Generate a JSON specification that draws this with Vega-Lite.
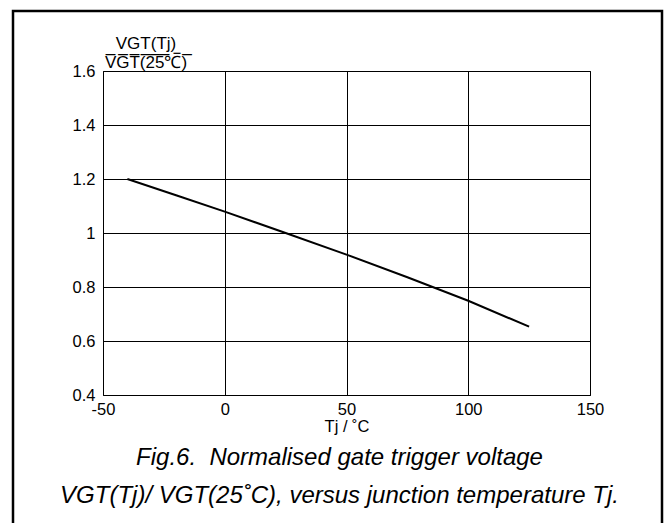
{
  "$schema": "https://vega.github.io/schema/vega-lite/v6.json",
  "width": 649,
  "height": 520,
  "autosize": {"type": "none"},
  "padding": {"left": 13, "top": 11, "right": 3, "bottom": -8},
  "background": "white",
  "config": {
    "font": "Liberation Sans",
    "view": {"stroke": "#000", "strokeWidth": 2.5, "fill": "white"},
    "axis": {
      "domainColor": "#000", "domainWidth": 1,
      "gridColor": "#000", "gridWidth": 1, "gridOpacity": 1,
      "ticks": false, "tickSize": 0,
      "labelColor": "#000", "labelFont": "Liberation Sans", "labelFontSize": 16.5,
      "titleColor": "#000", "titleFont": "Liberation Sans", "titleFontSize": 16.5, "titleFontWeight": "normal"
    }
  },
  "title": {
    "text": ["Fig.6.\u00a0 Normalised gate trigger voltage", "VGT(Tj)/ VGT(25˚C), versus junction temperature Tj."],
    "orient": "bottom", "anchor": "middle", "frame": "group", "offset": -66,
    "baseline": "alphabetic", "fontSize": 24, "fontStyle": "italic", "fontWeight": "normal",
    "font": "Liberation Sans", "color": "#000", "lineHeight": 37.5, "dx": 2
  },
  "data": {
    "values": [
      {"Tj": -40, "ratio": 1.2},
      {"Tj": -20, "ratio": 1.14},
      {"Tj": 0, "ratio": 1.079},
      {"Tj": 25, "ratio": 1.0},
      {"Tj": 50, "ratio": 0.92},
      {"Tj": 75, "ratio": 0.836},
      {"Tj": 100, "ratio": 0.749},
      {"Tj": 125, "ratio": 0.653}
    ]
  },
  "layer": [
    {
      "mark": {"type": "line", "color": "#000", "strokeWidth": 2},
      "encoding": {
        "x": {
          "field": "Tj", "type": "quantitative",
          "scale": {"domain": [-50, 150], "range": [90, 577], "nice": false, "zero": false},
          "axis": {
            "orient": "bottom", "offset": -136, "values": [-50, 0, 50, 100, 150],
            "labelExpr": "datum.value + ''", "grid": false, "labelPadding": 6,
            "labelFlush": false, "labelOverlap": false,
            "title": "Tj / ˚C", "titlePadding": 1
          }
        },
        "y": {
          "field": "ratio", "type": "quantitative",
          "scale": {"domain": [0.4, 1.6], "range": [384, 60], "nice": false, "zero": false},
          "axis": {
            "orient": "left", "offset": -90, "values": [0.4, 0.6, 0.8, 1.0, 1.2, 1.4, 1.6],
            "format": ".1~f", "grid": true, "labelPadding": 8, "labelFlush": false, "labelOverlap": false,
            "title": ["VGT(Tj)", "V\u0305G\u0305T\u0305(\u03052\u03055\u0305\u2103\u0305)\u0305"],
            "titleAngle": 0, "titleAlign": "center", "titleBaseline": "alphabetic",
            "titleFontSize": 17,
            "titleX": 42.5, "titleY": 37, "titleLineHeight": 19
          }
        }
      }
    },
    {
      "mark": {"type": "point", "opacity": 0},
      "encoding": {
        "x": {
          "field": "Tj", "type": "quantitative",
          "scale": {"domain": [-50, 150], "range": [90, 577], "nice": false, "zero": false},
          "axis": {"orient": "top", "offset": -60, "values": [-50, 0, 50, 100, 150], "labels": false, "grid": true, "title": null}
        },
        "y": {
          "field": "ratio", "type": "quantitative",
          "scale": {"domain": [0.4, 1.6], "range": [384, 60], "nice": false, "zero": false},
          "axis": {"orient": "right", "offset": -72, "values": [0.4, 1.6], "labels": false, "grid": false, "title": null}
        }
      }
    }
  ],
  "resolve": {"axis": {"x": "independent", "y": "independent"}}
}
